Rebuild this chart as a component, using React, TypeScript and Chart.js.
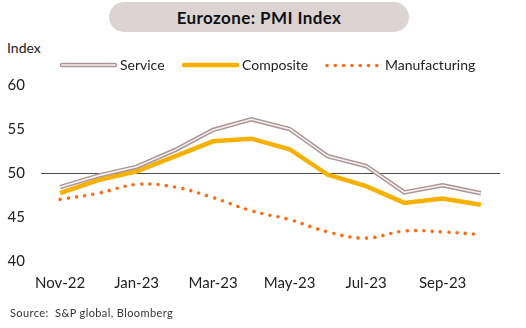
import React, { useEffect, useRef } from "react";
import { Chart, registerables } from "chart.js";

Chart.register(...registerables);

const months = ["Nov-22", "Dec-22", "Jan-23", "Feb-23", "Mar-23", "Apr-23", "May-23", "Jun-23", "Jul-23", "Aug-23", "Sep-23", "Oct-23"];
const service = [48.4, 49.7, 50.7, 52.6, 54.9, 56.1, 55.0, 51.9, 50.8, 47.8, 48.6, 47.7];
const composite = [47.7, 49.2, 50.2, 51.9, 53.6, 53.9, 52.7, 49.8, 48.5, 46.6, 47.1, 46.4];
const manufacturing = [47.0, 47.7, 48.7, 48.4, 47.2, 45.7, 44.7, 43.3, 42.6, 43.4, 43.3, 43.0];
const yTicks = [40, 45, 50, 55, 60];

const FONT = "Lato, 'Noto Sans', sans-serif";
const SERVICE_OUT = "#a99596";
const SERVICE_IN = "#f6f1f1";
const COMPOSITE = "#f5b000";
const MANUF = "#ff6a13";

const legendPlugin = {
  id: "customLegend",
  afterDraw(chart: any) {
    const ctx = chart.ctx;
    ctx.save();
    const y = 65;
    ctx.lineCap = "round";
    ctx.strokeStyle = SERVICE_OUT;
    ctx.lineWidth = 4.5;
    ctx.beginPath(); ctx.moveTo(62, y); ctx.lineTo(115, y); ctx.stroke();
    ctx.strokeStyle = SERVICE_IN;
    ctx.lineWidth = 1.6;
    ctx.beginPath(); ctx.moveTo(62, y); ctx.lineTo(115, y); ctx.stroke();
    ctx.strokeStyle = COMPOSITE;
    ctx.lineWidth = 4.5;
    ctx.beginPath(); ctx.moveTo(184, y); ctx.lineTo(237, y); ctx.stroke();
    ctx.fillStyle = MANUF;
    for (let i = 0; i < 7; i++) {
      ctx.beginPath();
      ctx.arc(327 + i * 8.3, y + 0.5, 1.8, 0, Math.PI * 2);
      ctx.fill();
    }
    ctx.fillStyle = "#222";
    ctx.font = `14px ${FONT}`;
    ctx.textBaseline = "middle";
    ctx.fillText("Service", 120, y);
    ctx.fillText("Composite", 242, y);
    ctx.fillText("Manufacturing", 385, y);
    ctx.restore();
  },
};

export default function App() {
  const ref = useRef<HTMLCanvasElement>(null);
  useEffect(() => {
    if (!ref.current) return;
    const chart = new Chart(ref.current, {
      type: "line",
      data: {
        labels: months,
        datasets: [
          { label: "Service", data: service, borderColor: SERVICE_IN, borderWidth: 1.6, pointRadius: 0, order: 0, tension: 0 },
          { label: "Service outline", data: service, borderColor: SERVICE_OUT, borderWidth: 4.5, pointRadius: 0, order: 1, tension: 0 },
          { label: "Composite", data: composite, borderColor: COMPOSITE, borderWidth: 4.5, pointRadius: 0, order: 2, tension: 0 },
          { label: "Manufacturing", data: manufacturing, borderColor: MANUF, borderWidth: 3.6, borderDash: [0, 8.3], borderCapStyle: "round", pointRadius: 0, order: 3, tension: 0.4 },
        ],
      },
      options: {
        responsive: false,
        animation: false,
        layout: { padding: { top: 85, right: 26, bottom: 30, left: 0 } },
        plugins: { legend: { display: false }, tooltip: { enabled: false }, title: { display: false } },
        scales: {
          x: {
            offset: true,
            grid: { display: false, drawTicks: false },
            border: { display: false },
            afterFit: (s: any) => { s.height = 37; },
            ticks: {
              autoSkip: false,
              maxRotation: 0,
              padding: 13,
              color: "#222",
              font: { family: FONT, size: 15 },
              callback: (_v: any, i: number) => (i % 2 === 0 ? months[i] : ""),
            },
          },
          y: {
            min: 40,
            max: 60,
            afterBuildTicks: (s: any) => { s.ticks = yTicks.map((v) => ({ value: v })); },
            afterFit: (s: any) => { s.width = 41; },
            border: { display: false },
            grid: {
              drawTicks: false,
              color: (c: any) => (c.tick && c.tick.value === 50 ? "#4a4a4a" : "transparent"),
              lineWidth: 1,
            },
            ticks: { padding: 16, color: "#222", font: { family: FONT, size: 15 } },
          },
        },
      },
      plugins: [legendPlugin],
    });
    return () => chart.destroy();
  }, []);

  return (
    <div style={{ position: "absolute", left: 0, top: 0, width: 526, height: 328, background: "#fff", fontFamily: FONT }}>
      <div style={{ position: "absolute", left: 109, top: 2, width: 300, height: 30, borderRadius: 15, background: "#dcd4d3", display: "flex", alignItems: "center", justifyContent: "center", fontWeight: 700, fontSize: 17, letterSpacing: 0.4, color: "#111" }}>
        Eurozone: PMI Index
      </div>
      <div style={{ position: "absolute", left: 7, top: 39, fontSize: 14, color: "#222" }}>Index</div>
      <canvas ref={ref} width={526} height={328} style={{ position: "absolute", left: 0, top: 0 }} />
      <div style={{ position: "absolute", left: 10, top: 306, fontSize: 11, letterSpacing: 0.4, color: "#333" }}>Source:&nbsp; S&amp;P global, Bloomberg</div>
    </div>
  );
}
